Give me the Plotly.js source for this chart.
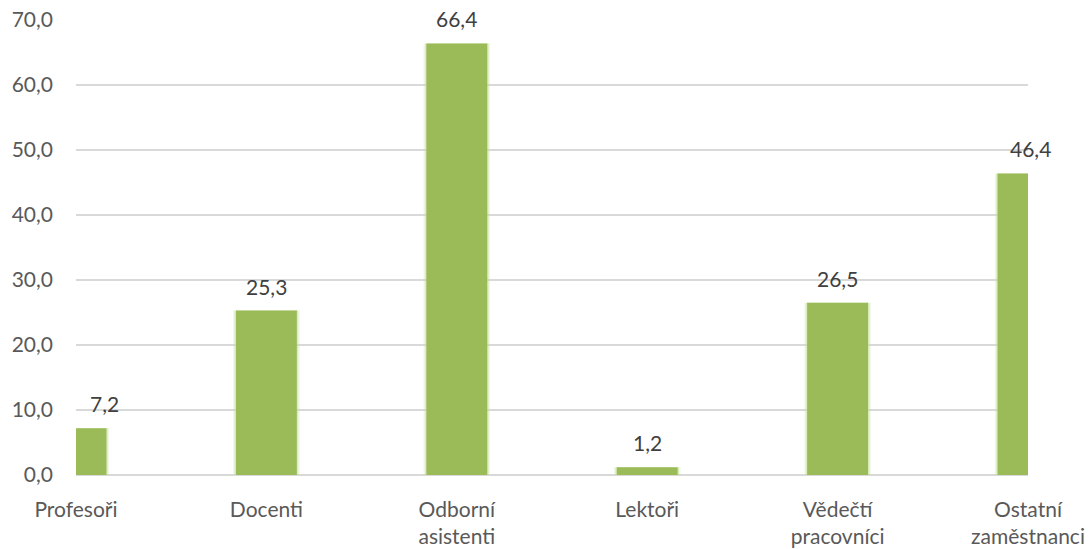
<!DOCTYPE html>
<html>
<head>
<meta charset="utf-8">
<script src="https://cdn.plot.ly/plotly-3.0.1.min.js"></script>
<style>html,body{margin:0;padding:0;background:#fff;}#chart{width:1091px;height:549px;}</style>
</head>
<body>
<div id="chart"></div>
<script>
const categories = ["Profesoři", "Docenti", "Odborní<br>asistenti", "Lektoři", "Vědečtí<br>pracovníci", "Ostatní<br>zaměstnanci"];
const values = [7.2, 25.3, 66.4, 1.2, 26.5, 46.4];
const labelText = ["7,2", "25,3", "66,4", "1,2", "26,5", "46,4"];
const labelShift = [28, 0, 0, 0, 0, 2];
const yTicks = [0, 10, 20, 30, 40, 50, 60, 70];

const fontFam = "Lato, 'Open Sans', sans-serif";
const xs = categories.map((c, i) => i);

const glow2 = {
  type: 'bar', x: xs, y: values, width: 0.35,
  marker: {color: 'rgba(200,228,160,0.25)', line: {width: 0}},
  hoverinfo: 'none'
};
const glow1 = {
  type: 'bar', x: xs, y: values, width: 0.335,
  marker: {color: 'rgba(190,222,145,0.45)', line: {width: 0}},
  hoverinfo: 'none'
};
const trace = {
  type: 'bar', x: xs, y: values, width: 0.32,
  marker: {color: '#9BBB59', line: {width: 0}},
  hoverinfo: 'none'
};

const annotations = values.map((v, i) => ({
  x: i, y: v, xref: 'x', yref: 'y',
  text: labelText[i], showarrow: false,
  yanchor: 'bottom', yshift: 10, xshift: labelShift[i],
  font: {family: fontFam, size: 21, color: '#404040'}
}));

const layout = {
  width: 1091, height: 549,
  margin: {l: 76, r: 63, t: 20, b: 74},
  paper_bgcolor: '#fff', plot_bgcolor: '#fff',
  showlegend: false,
  barmode: 'overlay',
  separators: ', ',
  xaxis: {
    range: [0, 5],
    tickmode: 'array',
    tickvals: xs,
    ticktext: categories,
    showgrid: false, zeroline: false, showline: false,
    ticks: '', ticklabelstandoff: 20,
    tickfont: {family: fontFam, size: 21, color: '#595959'},
    fixedrange: true
  },
  yaxis: {
    range: [0, 70],
    tickmode: 'array',
    tickvals: yTicks,
    ticktext: yTicks.map(t => t.toFixed(1).replace('.', ',')),
    showgrid: true, gridcolor: '#D9D9D9', gridwidth: 1.5,
    zeroline: true, zerolinecolor: '#D9D9D9', zerolinewidth: 1.5,
    showline: false, ticks: '', ticklabelstandoff: 22,
    tickfont: {family: fontFam, size: 21, color: '#595959'},
    fixedrange: true
  },
  annotations: annotations
};

Plotly.newPlot('chart', [glow2, glow1, trace], layout, {displayModeBar: false, staticPlot: true});
</script>
</body>
</html>
